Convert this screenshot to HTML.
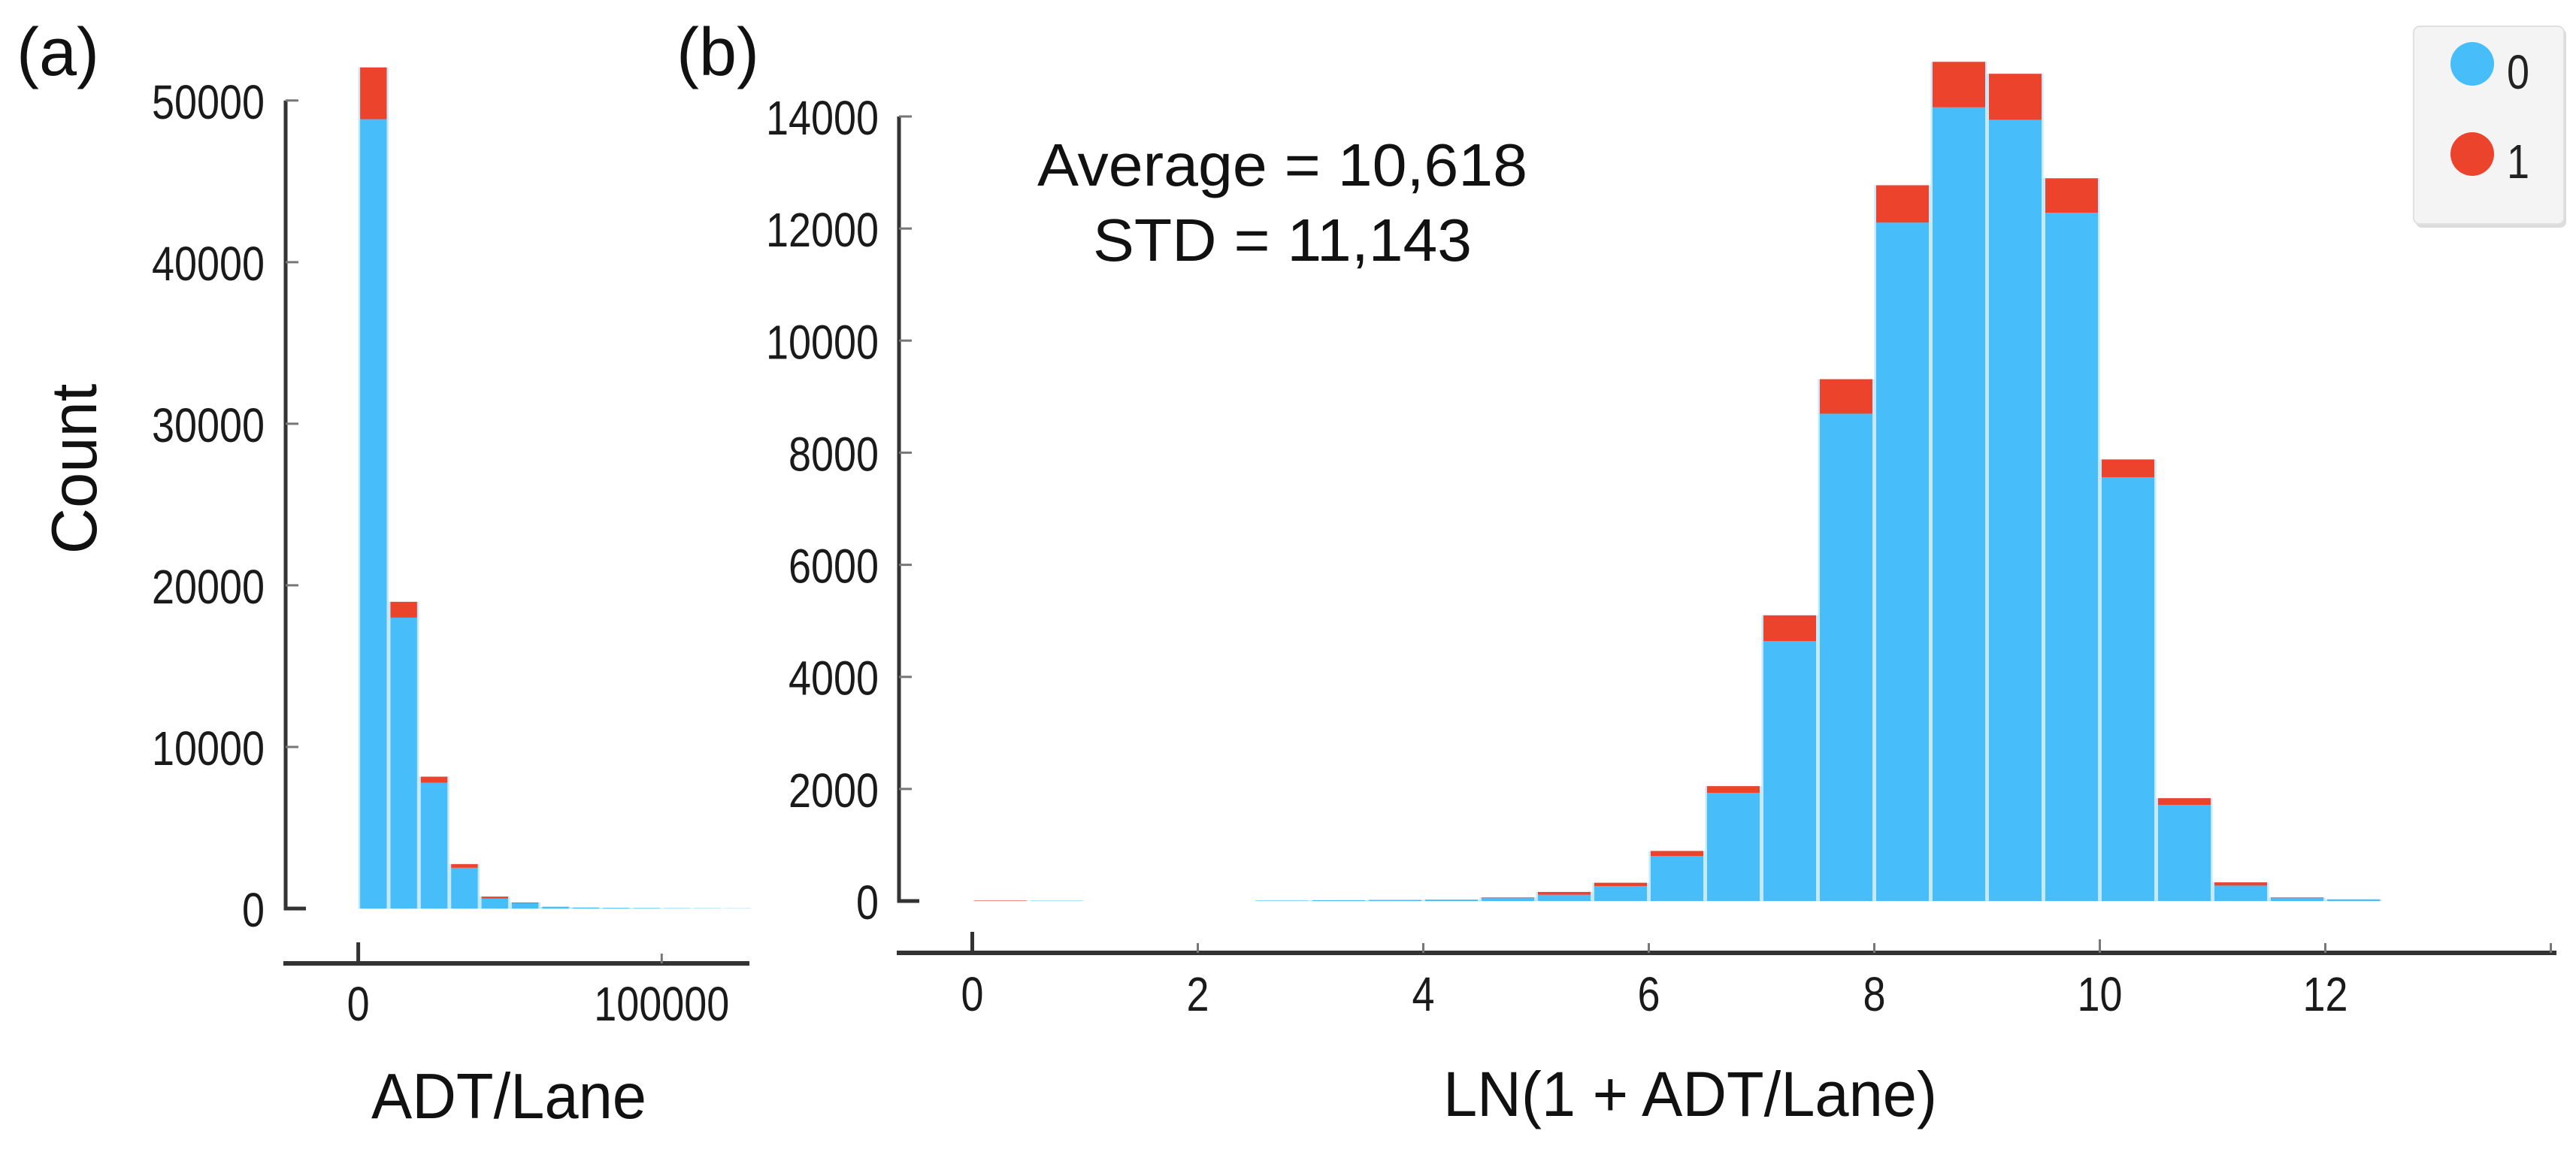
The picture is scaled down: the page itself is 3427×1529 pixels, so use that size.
<!DOCTYPE html>
<html><head><meta charset="utf-8">
<style>
html,body{margin:0;padding:0;background:#fff;}
svg{display:block;font-family:"Liberation Sans",Arial,sans-serif;}
</style></head>
<body>
<svg id="fig" width="3427" height="1529" viewBox="0 0 3427 1529" xmlns="http://www.w3.org/2000/svg">
  <rect x="0" y="0" width="3427" height="1529" fill="#ffffff"/>
  <text x="22" y="100" font-size="90" fill="#111">(a)</text>
  <text x="900" y="100" font-size="90" fill="#111">(b)</text>
  <text transform="translate(128,624) rotate(-90)" text-anchor="middle" font-size="85" fill="#111">Count</text>
  <text x="494" y="1488" font-size="85" fill="#111" textLength="366" lengthAdjust="spacingAndGlyphs">ADT/Lane</text>
  <text x="1920" y="1485" font-size="84" fill="#111" textLength="657" lengthAdjust="spacingAndGlyphs">LN(1 + ADT/Lane)</text>
  <g>
    <text x="1706" y="247" text-anchor="middle" font-size="80" fill="#111" textLength="652" lengthAdjust="spacingAndGlyphs">Average = 10,618</text>
    <text x="1706" y="347" text-anchor="middle" font-size="80" fill="#111" textLength="504" lengthAdjust="spacingAndGlyphs">STD = 11,143</text>
  </g>
  <g id="plotA"></g>
  <g id="plotB"></g>
  <g>
    <rect x="3214" y="38" width="200" height="265" rx="8" fill="#dcdcdc"/>
    <rect x="3211" y="35" width="200" height="263" rx="8" fill="#f4f4f4" stroke="#e0e0e0" stroke-width="2"/>
    <g>
      <circle cx="3289" cy="85" r="29" fill="#47BEF9"/>
      <text x="3335" y="118" font-size="64" fill="#222" textLength="30" lengthAdjust="spacingAndGlyphs">0</text>
    </g>
    <g>
      <circle cx="3289" cy="205" r="29" fill="#EC432D"/>
      <text x="3335" y="237" font-size="64" fill="#222" textLength="30" lengthAdjust="spacingAndGlyphs">1</text>
    </g>
  </g>
</svg>
<script>
// ---- Panel (a) data ----
const binStartsA = [0,10000,20000,30000,40000,50000,60000,70000,80000,90000,100000,110000,120000];
const class0A = [48850,18000,7790,2520,620,330,110,60,40,30,20,15,10];
const class1A = [3200,980,370,230,120,40,0,0,0,0,0,0,0];
const yTicksA = [0,10000,20000,30000,40000,50000];
const xTicksA = [0,100000];
const xTickLabelsA = ["0","100000"];
// ---- Panel (b) data ----
const binStartsB = [0,0.5,1,1.5,2,2.5,3,3.5,4,4.5,5,5.5,6,6.5,7,7.5,8,8.5,9,9.5,10,10.5,11,11.5,12];
const class0B = [0,5,0,0,0,8,15,20,25,60,112,268,804,1930,4638,8697,12106,14164,13941,12282,7562,1716,276,60,30];
const class1B = [8,0,0,0,0,0,0,0,0,5,50,58,89,120,460,615,667,811,821,615,318,119,57,5,0];
const yTicksB = [0,2000,4000,6000,8000,10000,12000,14000];
const xTicksB = [0,2,4,6,8,10,12,14];
const xTickLabelsB = ["0","2","4","6","8","10","12",""];

const NS = "http://www.w3.org/2000/svg";
function mk(tag, attrs, parent){ const e=document.createElementNS(NS,tag); for(const k in attrs) e.setAttribute(k,attrs[k]); parent.appendChild(e); return e; }

const xA = v => 476.6 + v*(880.3-476.6)/100000;
const yA = v => 1209 - v*(1209-133.8)/50000;
const xB = v => 1293.5 + v*150;
const yB = v => 1199 - v*(1199-155)/14000;

function drawPanel(g, starts, c0, c1, binW, xf, yf, yTicks, xTicks, xLabels, cfg){
  starts.forEach((s,i)=>{
    const x0=xf(s), x1=xf(s+binW);
    const yb=yf(0), yBlue=yf(c0[i]), yRed=yf(c0[i]+c1[i]);
    if (c0[i]+c1[i] <= 0) return;
    const bg = mk('rect',{x:x0,y:yRed,width:x1-x0,height:yb-yRed,fill:'#c4e9fd'},g);
    
    
    if (c0[i]>0){
      const b = mk('rect',{x:x0+2.5,y:yBlue,width:x1-x0-5,height:yb-yBlue,fill:'#47BEF9'},g);
      
      
    }
    if (c1[i]>0){
      const r = mk('rect',{x:x0+2.5,y:yRed,width:x1-x0-5,height:yBlue-yRed,fill:'#EC432D'},g);
      
      
    }
  });
  const ya = mk('path',{d:`M${cfg.yAxisX},${yf(yTicks[yTicks.length-1])} L${cfg.yAxisX},${yf(0)} L${cfg.yAxisX+cfg.foot},${yf(0)}`,stroke:'#333',fill:'none','stroke-width':5},g);
  
  
  yTicks.forEach((t,i)=>{
    const y=yf(t);
    if (i>0){
      const tk = mk('line',{x1:cfg.yAxisX,x2:cfg.yAxisX+17,y1:y,y2:y,stroke:'#777','stroke-width':3},g);
      
      
    }
    const s=String(t);
    const tx = mk('text',{x:cfg.yLabelRight,y:y+24,'text-anchor':'end','font-size':64,fill:'#1a1a1a',textLength:s.length*30,lengthAdjust:'spacingAndGlyphs'},g);
    tx.textContent=s;
    
    
  });
  const xa = mk('line',{x1:cfg.xAxisStart,x2:cfg.xAxisEnd,y1:cfg.xAxisY,y2:cfg.xAxisY,stroke:'#333','stroke-width':6},g);
  
  
  xTicks.forEach((t,i)=>{
    const x=xf(t);
    const len = i===0 ? 28 : (t===10 && cfg.long10 ? 18 : 13);
    const tk = mk('line',{x1:x,x2:x,y1:cfg.xAxisY-len,y2:cfg.xAxisY,stroke: i===0?'#333':'#777','stroke-width':i===0?5:3},g);
    
    
    const s=xLabels[i];
    if (s){
      const tx = mk('text',{x:x,y:cfg.xLabelY,'text-anchor':'middle','font-size':64,fill:'#1a1a1a',textLength:s.length*30,lengthAdjust:'spacingAndGlyphs'},g);
      tx.textContent=s;
      
      
    }
  });
}

drawPanel(document.getElementById('plotA'), binStartsA, class0A, class1A, 10000, xA, yA, yTicksA, xTicksA, xTickLabelsA,
  {yAxisX:380, foot:27, yLabelRight:352, xAxisStart:377, xAxisEnd:997, xAxisY:1282, xLabelY:1358, long10:false});
drawPanel(document.getElementById('plotB'), binStartsB, class0B, class1B, 0.5, xB, yB, yTicksB, xTicksB, xTickLabelsB,
  {yAxisX:1196, foot:27, yLabelRight:1169, xAxisStart:1193, xAxisEnd:3401, xAxisY:1268, xLabelY:1345, long10:true});
</script>
</body></html>
